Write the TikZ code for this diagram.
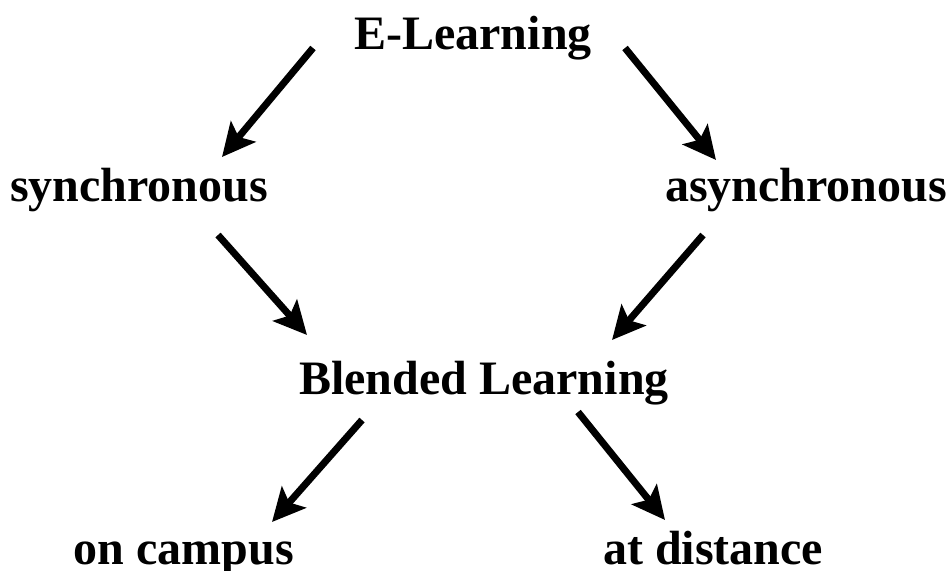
\documentclass[tikz,border=0pt]{standalone}
\usepackage{fontspec}
\setmainfont{Liberation Serif}
\usetikzlibrary{arrows.meta}

\begin{document}
\begin{tikzpicture}[x=1pt, y=-1pt,
    label/.style={anchor=base, inner sep=0pt, font=\fontsize{48}{58}\selectfont\bfseries},
    arr/.style={line width=7pt, -{Stealth[length=33pt, width=32pt, inset=7pt]}}]
    \useasboundingbox (0,0) rectangle (949,570);
    % text labels, placed at their baselines
    \node[label] (elearn) at (473,49) {E-Learning};
    \node[label] (sync) at (139,201) {synchronous};
    \node[label] (async) at (806,201) {asynchronous};
    \node[label] (blend) at (484,394) {Blended Learning};
    \node[label] (campus) at (184,564) {on campus};
    \node[label] (dist) at (713,564) {at distance};
    % arrows
    \draw[arr] ([shift={(-160,-1)}]elearn.base) -- ([shift={(83,-44)}]sync.base);
    \draw[arr] ([shift={(152,-1)}]elearn.base) -- ([shift={(-90,-41)}]async.base);
    \draw[arr] ([shift={(79,34)}]sync.base) -- ([shift={(-177,-59)}]blend.base);
    \draw[arr] ([shift={(-103,34)}]async.base) -- ([shift={(128,-54)}]blend.base);
    \draw[arr] ([shift={(-122,26)}]blend.base) -- ([shift={(88,-42)}]campus.base);
    \draw[arr] ([shift={(94,18)}]blend.base) -- ([shift={(-48,-44)}]dist.base);
\end{tikzpicture}
\end{document}
